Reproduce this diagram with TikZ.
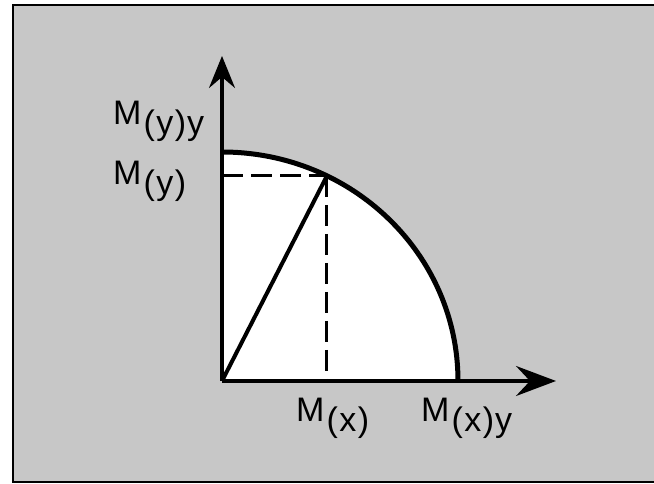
\documentclass[tikz,border=0pt]{standalone}
\usepackage{fontspec}
\setmainfont{Liberation Sans}
\usetikzlibrary{arrows.meta,calc}
\definecolor{bggray}{gray}{0.78}
\newcommand{\lbl}[2]{M\kern2pt\raisebox{-10pt}{(\kern1.5pt#1\kern1.5pt)\kern1pt#2}}
\begin{document}
\begin{tikzpicture}[x=1pt,y=1pt,
  axisline/.style={line width=3.5pt},
  curveline/.style={line width=5pt},
  guide/.style={line width=3pt, dash pattern=on 21pt off 8pt},
  labeltext/.style={anchor=base west, inner sep=0pt, font=\fontsize{34}{40}\selectfont}]
\useasboundingbox (0,0) rectangle (654,484);
\fill[white] (0,0) rectangle (654,484);
\fill[bggray] (13,2) rectangle (654,479);
\draw[line width=2.5pt] (654,479) -- (13,479) -- (13,2) -- (654,2);
\coordinate (O) at (222,103);
\coordinate (Ytip) at (222,428);
\coordinate (Xtip) at (556,103);
\coordinate (T) at (222,332);
\coordinate (P) at ($(O)+(63.6:236pt and 229pt)$);
\fill[white] (O) -- (T) arc[start angle=90, end angle=0, x radius=236pt, y radius=229pt] -- cycle;
\draw[curveline] (T) arc[start angle=90, end angle=0, x radius=236pt, y radius=229pt];
\draw[axisline, -{Stealth[length=32pt,width=26pt,inset=11pt]}] (O) -- (Ytip);
\draw[axisline, -{Stealth[length=40pt,width=30pt,inset=14pt]}] (O) -- (Xtip);
\draw[line width=4pt] (O) -- (P);
\draw[guide] (O |- P) -- (P);
\draw[guide] (P) -- (P |- O);
\node[labeltext] (lyy) at (113,359) {\lbl{y}{y}};
\node[labeltext] (ly) at (113,299) {\lbl{y}{}};
\node[labeltext] (lx) at (296,62) {\lbl{x}{}};
\node[labeltext] (lxy) at (421,62) {\lbl{x}{y}};
\end{tikzpicture}
\end{document}
